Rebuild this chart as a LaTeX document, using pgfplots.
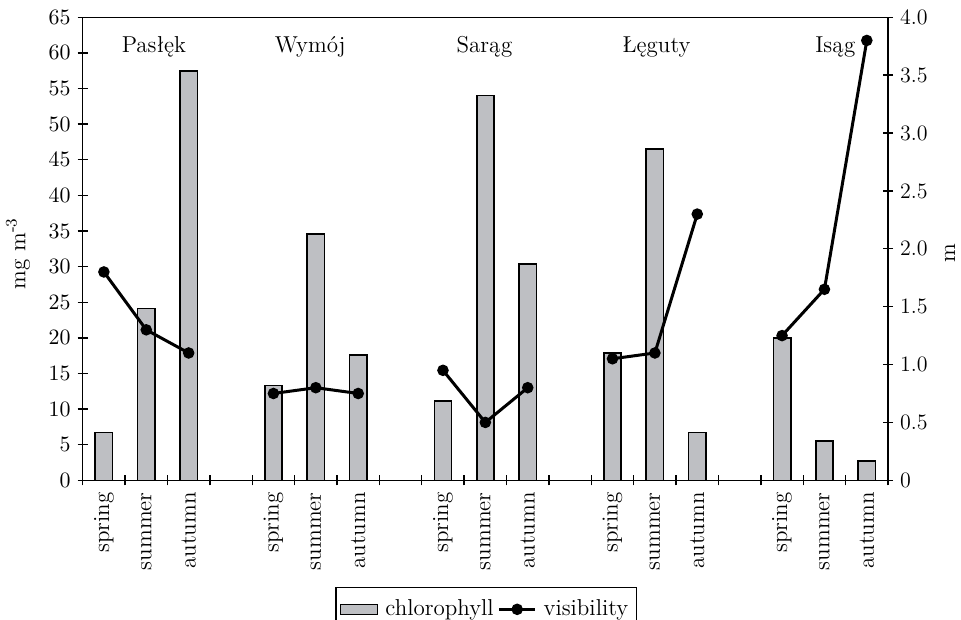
\documentclass[border=0pt]{standalone}
\usepackage{pgfplots}
\pgfplotsset{compat=1.18}
\definecolor{barfill}{RGB}{190,191,195}
\begin{document}
\begin{tikzpicture}
\useasboundingbox (-41.35pt,-69.5pt) rectangle (439.15pt,240.15pt);
\begin{axis}[
  scale only axis, width=402.65pt, height=231.5pt,
  at={(0pt,0pt)}, anchor=south west,
  xmin=-0.5, xmax=18.5, ymin=0, ymax=65,
  ybar, bar width=8.65pt,
  axis line style={line width=0.8pt},
  xtick={0,1,2,4,5,6,8,9,10,12,13,14,16,17,18},
  xticklabels={spring,summer,autumn,spring,summer,autumn,spring,summer,autumn,spring,summer,autumn,spring,summer,autumn},
  x tick label style={rotate=90, anchor=east, font=\fontsize{11.5}{13}\selectfont},
  major x tick style={draw=none},
  minor xtick={-0.5,0.5,1.5,2.5,3.5,4.5,5.5,6.5,7.5,8.5,9.5,10.5,11.5,12.5,13.5,14.5,15.5,16.5,17.5,18.5},
  minor tick length=5pt,
  major tick length=5pt,
  tick align=center,
  tick style={black, line width=0.7pt},
  xtick pos=left, ytick pos=left,
  ytick={0,5,...,65},
  y tick label style={font=\fontsize{11}{13}\selectfont},
  ylabel={mg m\textsuperscript{-3}},
  ylabel style={at={(axis description cs:-0.0803,0.49)}, anchor=center, font=\fontsize{11.5}{13}\selectfont},
]
\addplot[fill=barfill, draw=black, line width=0.8pt] coordinates {
  (0,6.7) (1,24.1) (2,57.5)
  (4,13.3) (5,34.6) (6,17.6)
  (8,11.1) (9,54.0) (10,30.4)
  (12,17.9) (13,46.5) (14,6.7)
  (16,20.0) (17,5.5) (18,2.7)
};
\node[anchor=base, font=\fontsize{11.5}{13}\selectfont] at (axis cs:1.18,60.0) {Pasłęk};
\node[anchor=base, font=\fontsize{11.5}{13}\selectfont] at (axis cs:4.87,60.0) {Wymój};
\node[anchor=base, font=\fontsize{11.5}{13}\selectfont] at (axis cs:8.98,60.0) {Sarąg};
\node[anchor=base, font=\fontsize{11.5}{13}\selectfont] at (axis cs:13.04,60.0) {Łęguty};
\node[anchor=base, font=\fontsize{11.5}{13}\selectfont] at (axis cs:17.26,60.0) {Isąg};
\end{axis}
\begin{axis}[
  scale only axis, width=402.65pt, height=231.5pt,
  at={(0pt,0pt)}, anchor=south west,
  xmin=-0.5, xmax=18.5, ymin=0, ymax=4,
  axis x line=none, axis y line*=right,
  axis line style={line width=0.8pt},
  ytick={0,0.5,1,1.5,2,2.5,3,3.5,4},
  yticklabels={0,0.5,1.0,1.5,2.0,2.5,3.0,3.5,4.0},
  y tick label style={font=\fontsize{11}{13}\selectfont},
  major tick length=5pt, tick align=center,
  tick style={black, line width=0.7pt},
  ylabel={m},
  ylabel style={at={(axis description cs:1.077,0.49)}, anchor=center, rotate=0, font=\fontsize{11.5}{13}\selectfont},
  legend columns=2,
  legend style={at={(axis description cs:0.501,-0.231)}, anchor=north, draw=black, line width=0.6pt,
    font=\fontsize{11.5}{13}\selectfont, inner xsep=2pt, inner ysep=4pt},
]
\addlegendimage{legend image code/.code={\draw[fill=barfill,draw=black,line width=0.7pt] (0pt,-2.5pt) rectangle (18.5pt,2.5pt);}}
\addlegendentry{\hspace{1.5pt}chlorophyll\hspace{6pt}}
\addplot[black, line width=1.5pt, mark=*, mark size=2.1pt, unbounded coords=jump,
  legend image code/.code={\draw[black,line width=1.5pt] (0pt,0pt) -- (18pt,0pt); \fill[black] (9pt,0pt) circle (2.1pt);}]
coordinates {
  (0,1.80) (1,1.30) (2,1.10) (3,nan)
  (4,0.75) (5,0.80) (6,0.75) (7,nan)
  (8,0.95) (9,0.50) (10,0.80) (11,nan)
  (12,1.05) (13,1.10) (14,2.30) (15,nan)
  (16,1.25) (17,1.65) (18,3.80)
};
\addlegendentry{\hspace{1.5pt}visibility\hspace{1pt}}
\end{axis}
\end{tikzpicture}
\end{document}
